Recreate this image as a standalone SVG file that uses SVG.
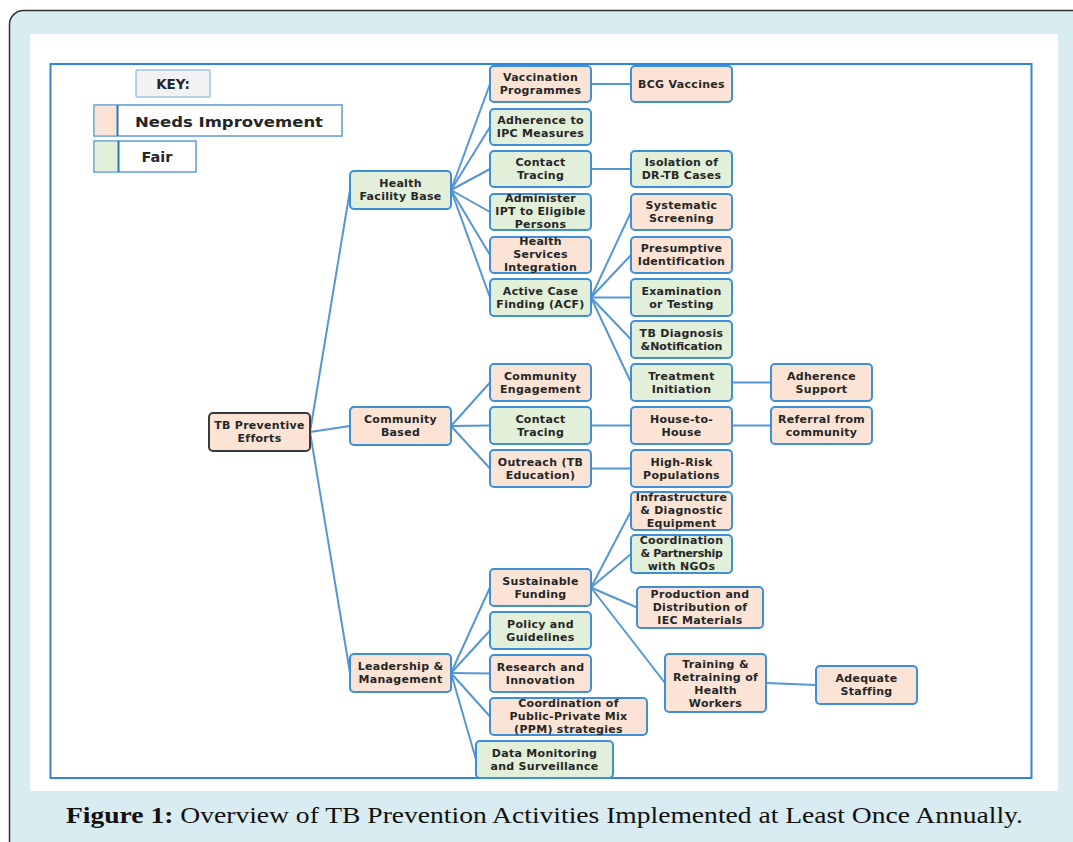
<svg xmlns="http://www.w3.org/2000/svg" width="1073" height="842" viewBox="0 0 1073 842">
<style>
.n rect{stroke:#3f8fd8;stroke-width:2}
.p{fill:#fbe4d5}
.g{fill:#e2efd9}
.t{font-family:"DejaVu Sans","Liberation Sans",sans-serif;font-weight:bold;font-size:11px;fill:#262626;text-anchor:middle;letter-spacing:0.3px}
.c line{stroke:#5596d3;stroke-width:2;stroke-linecap:round}
.k{font-family:"DejaVu Sans","Liberation Sans",sans-serif;font-weight:bold;fill:#262626;text-anchor:middle}
</style>
<rect x="9.5" y="10.5" width="1100" height="850" rx="14" fill="#d8ecf1" stroke="#333" stroke-width="1.5"/>
<rect x="30" y="34" width="1028" height="757" fill="#fff"/>
<rect x="50.5" y="64" width="981" height="714" fill="none" stroke="#2e86d8" stroke-width="2"/>

<g id="key">
<rect x="136" y="70" width="74" height="27" fill="#f2f2f2" stroke="#9dc3e6" stroke-width="1.5" rx="1"/>
<text class="k" x="173" y="89" font-size="13.5">KEY:</text>
<rect x="94" y="105" width="248" height="31" fill="#fff" stroke="#5b9bd5" stroke-width="1.5"/>
<rect x="94.8" y="105.8" width="22" height="29.4" fill="#fbe4d5"/>
<line x1="117.5" y1="105" x2="117.5" y2="136" stroke="#2e75b6" stroke-width="2"/>
<text class="k" x="229" y="126.5" font-size="14.5" textLength="188" lengthAdjust="spacingAndGlyphs">Needs Improvement</text>
<rect x="94" y="141" width="102" height="31" fill="#fff" stroke="#5b9bd5" stroke-width="1.5"/>
<rect x="94.8" y="141.8" width="23" height="29.4" fill="#e2efd9"/>
<line x1="118.5" y1="141" x2="118.5" y2="172" stroke="#2e75b6" stroke-width="2"/>
<text class="k" x="157" y="162" font-size="14.5">Fair</text>
</g>

<g id="connectors" class="c">
<line x1="310" y1="432" x2="350" y2="190"/>
<line x1="310" y1="432" x2="350" y2="426"/>
<line x1="310" y1="432" x2="350" y2="673"/>
<line x1="451" y1="190" x2="490" y2="84"/>
<line x1="451" y1="190" x2="490" y2="127"/>
<line x1="451" y1="190" x2="490" y2="169"/>
<line x1="451" y1="190" x2="490" y2="212"/>
<line x1="451" y1="190" x2="490" y2="255"/>
<line x1="451" y1="190" x2="490" y2="297.5"/>
<line x1="591" y1="84" x2="631" y2="84"/>
<line x1="591" y1="169" x2="631" y2="169"/>
<line x1="591" y1="297.5" x2="631" y2="212"/>
<line x1="591" y1="297.5" x2="631" y2="255"/>
<line x1="591" y1="297.5" x2="631" y2="297.5"/>
<line x1="591" y1="297.5" x2="631" y2="339.5"/>
<line x1="591" y1="297.5" x2="631" y2="382.5"/>
<line x1="732" y1="382.5" x2="771" y2="382.5"/>
<line x1="451" y1="426" x2="490" y2="382.5"/>
<line x1="451" y1="426" x2="490" y2="425.5"/>
<line x1="451" y1="426" x2="490" y2="468.5"/>
<line x1="591" y1="425.5" x2="631" y2="425.5"/>
<line x1="732" y1="425.5" x2="771" y2="425.5"/>
<line x1="591" y1="468.5" x2="631" y2="468.5"/>
<line x1="451" y1="673" x2="490" y2="587.5"/>
<line x1="451" y1="673" x2="490" y2="630.5"/>
<line x1="451" y1="673" x2="490" y2="673.5"/>
<line x1="451" y1="673" x2="490" y2="716.5"/>
<line x1="451" y1="673" x2="476" y2="759.5"/>
<line x1="591" y1="587.5" x2="631" y2="511"/>
<line x1="591" y1="587.5" x2="631" y2="554"/>
<line x1="591" y1="587.5" x2="637" y2="607.5"/>
<line x1="591" y1="587.5" x2="665" y2="683"/>
<line x1="766" y1="683" x2="816" y2="685"/>
</g>

<g id="root" class="n"><rect x="209" y="413" width="101" height="38" rx="4" class="p" style="stroke:#3a3a3a"/><text class="t"><tspan x="259.5" y="429">TB Preventive</tspan><tspan x="259.5" y="442">Efforts</tspan></text></g>
<g id="hfb" class="n"><rect x="350" y="171" width="101" height="38" rx="4" class="g"/><text class="t"><tspan x="400.5" y="187">Health</tspan><tspan x="400.5" y="200">Facility Base</tspan></text></g>
<g id="cb" class="n"><rect x="350" y="407" width="101" height="38" rx="4" class="p"/><text class="t"><tspan x="400.5" y="423">Community</tspan><tspan x="400.5" y="436">Based</tspan></text></g>
<g id="lm" class="n"><rect x="350" y="654" width="101" height="38" rx="4" class="p"/><text class="t"><tspan x="400.5" y="670">Leadership &amp;</tspan><tspan x="400.5" y="683">Management</tspan></text></g>

<g id="vp" class="n"><rect x="490" y="66" width="101" height="36" rx="4" class="p"/><text class="t"><tspan x="540.5" y="81">Vaccination</tspan><tspan x="540.5" y="94">Programmes</tspan></text></g>
<g id="ipc" class="n"><rect x="490" y="109" width="101" height="36" rx="4" class="g"/><text class="t"><tspan x="540.5" y="124">Adherence to</tspan><tspan x="540.5" y="137">IPC Measures</tspan></text></g>
<g id="ct1" class="n"><rect x="490" y="151" width="101" height="36" rx="4" class="g"/><text class="t"><tspan x="540.5" y="166">Contact</tspan><tspan x="540.5" y="179">Tracing</tspan></text></g>
<g id="ipt" class="n"><rect x="490" y="194" width="101" height="36" rx="4" class="g"/><text class="t"><tspan x="540.5" y="202">Administer</tspan><tspan x="540.5" y="215">IPT to Eligible</tspan><tspan x="540.5" y="228">Persons</tspan></text></g>
<g id="hsi" class="n"><rect x="490" y="237" width="101" height="36" rx="4" class="p"/><text class="t"><tspan x="540.5" y="245">Health</tspan><tspan x="540.5" y="258">Services</tspan><tspan x="540.5" y="271">Integration</tspan></text></g>
<g id="acf" class="n"><rect x="490" y="279" width="101" height="37" rx="4" class="g"/><text class="t"><tspan x="540.5" y="294.5">Active Case</tspan><tspan x="540.5" y="307.5">Finding (ACF)</tspan></text></g>
<g id="ce" class="n"><rect x="490" y="364" width="101" height="37" rx="4" class="p"/><text class="t"><tspan x="540.5" y="379.5">Community</tspan><tspan x="540.5" y="392.5">Engagement</tspan></text></g>
<g id="ct2" class="n"><rect x="490" y="407" width="101" height="37" rx="4" class="g"/><text class="t"><tspan x="540.5" y="422.5">Contact</tspan><tspan x="540.5" y="435.5">Tracing</tspan></text></g>
<g id="out" class="n"><rect x="490" y="450" width="101" height="37" rx="4" class="p"/><text class="t"><tspan x="540.5" y="465.5">Outreach (TB</tspan><tspan x="540.5" y="478.5">Education)</tspan></text></g>
<g id="sf" class="n"><rect x="490" y="569" width="101" height="37" rx="4" class="p"/><text class="t"><tspan x="540.5" y="584.5">Sustainable</tspan><tspan x="540.5" y="597.5">Funding</tspan></text></g>
<g id="pg" class="n"><rect x="490" y="612" width="101" height="37" rx="4" class="g"/><text class="t"><tspan x="540.5" y="627.5">Policy and</tspan><tspan x="540.5" y="640.5">Guidelines</tspan></text></g>
<g id="ri" class="n"><rect x="490" y="655" width="101" height="37" rx="4" class="p"/><text class="t"><tspan x="540.5" y="670.5">Research and</tspan><tspan x="540.5" y="683.5">Innovation</tspan></text></g>
<g id="ppm" class="n"><rect x="490" y="698" width="157" height="37" rx="4" class="p"/><text class="t"><tspan x="568.5" y="706.5">Coordination of</tspan><tspan x="568.5" y="719.5">Public-Private Mix</tspan><tspan x="568.5" y="732.5">(PPM) strategies</tspan></text></g>
<g id="dms" class="n"><rect x="476" y="741" width="137" height="37" rx="4" class="g"/><text class="t"><tspan x="544.5" y="756.5">Data Monitoring</tspan><tspan x="544.5" y="769.5">and Surveillance</tspan></text></g>

<g id="bcg" class="n"><rect x="631" y="66" width="101" height="36" rx="4" class="p"/><text class="t" x="681.5" y="88">BCG Vaccines</text></g>
<g id="iso" class="n"><rect x="631" y="151" width="101" height="36" rx="4" class="g"/><text class="t"><tspan x="681.5" y="166">Isolation of</tspan><tspan x="681.5" y="179">DR-TB Cases</tspan></text></g>
<g id="ss" class="n"><rect x="631" y="194" width="101" height="36" rx="4" class="p"/><text class="t"><tspan x="681.5" y="209">Systematic</tspan><tspan x="681.5" y="222">Screening</tspan></text></g>
<g id="pi" class="n"><rect x="631" y="237" width="101" height="36" rx="4" class="p"/><text class="t"><tspan x="681.5" y="252">Presumptive</tspan><tspan x="681.5" y="265">Identification</tspan></text></g>
<g id="et" class="n"><rect x="631" y="279" width="101" height="37" rx="4" class="g"/><text class="t"><tspan x="681.5" y="294.5">Examination</tspan><tspan x="681.5" y="307.5">or Testing</tspan></text></g>
<g id="tbd" class="n"><rect x="631" y="321" width="101" height="37" rx="4" class="g"/><text class="t"><tspan x="681.5" y="336.5">TB Diagnosis</tspan><tspan x="681.5" y="349.5" letter-spacing="0">&amp;Notification</tspan></text></g>
<g id="ti" class="n"><rect x="631" y="364" width="101" height="37" rx="4" class="g"/><text class="t"><tspan x="681.5" y="379.5">Treatment</tspan><tspan x="681.5" y="392.5">Initiation</tspan></text></g>
<g id="hh" class="n"><rect x="631" y="407" width="101" height="37" rx="4" class="p"/><text class="t"><tspan x="681.5" y="422.5">House-to-</tspan><tspan x="681.5" y="435.5">House</tspan></text></g>
<g id="hr" class="n"><rect x="631" y="450" width="101" height="37" rx="4" class="p"/><text class="t"><tspan x="681.5" y="465.5">High-Risk</tspan><tspan x="681.5" y="478.5">Populations</tspan></text></g>
<g id="inf" class="n"><rect x="631" y="492" width="101" height="38" rx="4" class="p"/><text class="t"><tspan x="681.5" y="501">Infrastructure</tspan><tspan x="681.5" y="514">&amp; Diagnostic</tspan><tspan x="681.5" y="527">Equipment</tspan></text></g>
<g id="cpn" class="n"><rect x="631" y="535" width="101" height="38" rx="4" class="g"/><text class="t"><tspan x="681.5" y="544">Coordination</tspan><tspan x="681.5" y="557" letter-spacing="-0.3">&amp; Partnership</tspan><tspan x="681.5" y="570">with NGOs</tspan></text></g>
<g id="iec" class="n"><rect x="637" y="587" width="126" height="41" rx="4" class="p"/><text class="t"><tspan x="700" y="597.5">Production and</tspan><tspan x="700" y="610.5">Distribution of</tspan><tspan x="700" y="623.5">IEC Materials</tspan></text></g>
<g id="trn" class="n"><rect x="665" y="654" width="101" height="58" rx="4" class="p"/><text class="t"><tspan x="715.5" y="668">Training &amp;</tspan><tspan x="715.5" y="681">Retraining of</tspan><tspan x="715.5" y="694">Health</tspan><tspan x="715.5" y="707">Workers</tspan></text></g>

<g id="as" class="n"><rect x="771" y="364" width="101" height="37" rx="4" class="p"/><text class="t"><tspan x="821.5" y="379.5">Adherence</tspan><tspan x="821.5" y="392.5">Support</tspan></text></g>
<g id="rfc" class="n"><rect x="771" y="407" width="101" height="37" rx="4" class="p"/><text class="t"><tspan x="821.5" y="422.5">Referral from</tspan><tspan x="821.5" y="435.5">community</tspan></text></g>
<g id="ads" class="n"><rect x="816" y="666" width="101" height="38" rx="4" class="p"/><text class="t"><tspan x="866.5" y="682">Adequate</tspan><tspan x="866.5" y="695">Staffing</tspan></text></g>

<text x="544.5" y="823" font-family="'Liberation Serif','DejaVu Serif',serif" font-size="24" fill="#111" text-anchor="middle" textLength="957" lengthAdjust="spacingAndGlyphs"><tspan font-weight="bold">Figure 1:</tspan> Overview of TB Prevention Activities Implemented at Least Once Annually.</text>
</svg>
